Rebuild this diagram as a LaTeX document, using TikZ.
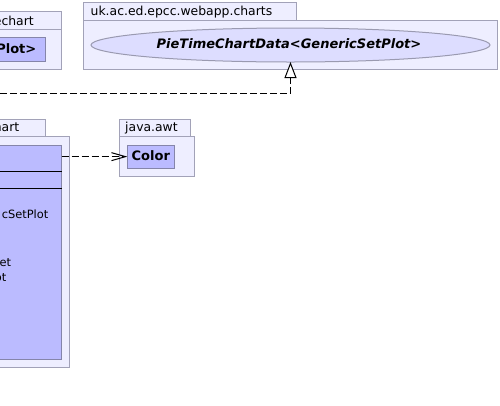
\documentclass[tikz,border=0pt]{standalone}
\usepackage{fontspec}
\setmainfont{DejaVu Sans}
\usetikzlibrary{arrows.meta,calc,shapes.geometric}
\definecolor{pkgfill}{HTML}{EEEEFF}
\definecolor{pkgline}{HTML}{A2A2B8}
\definecolor{clsfill}{HTML}{BBBBFF}
\definecolor{clsline}{HTML}{8585AA}
\definecolor{ellfill}{HTML}{DDDDFF}
\definecolor{ellline}{HTML}{9A9AB0}
\begin{document}
\begin{tikzpicture}[x=1pt,y=-1pt,
  pkgbox/.style={draw=pkgline,fill=pkgfill,line width=1pt,inner sep=0pt,outer sep=0pt,anchor=north west},
  clsbox/.style={draw=clsline,fill=clsfill,line width=1pt,inner sep=0pt,outer sep=0pt,anchor=north west},
  pkgname/.style={inner sep=0pt,font=\fontsize{12.4}{14}\selectfont},
  clsname/.style={inner sep=0pt,font=\fontsize{13}{15}\selectfont\bfseries},
  member/.style={inner sep=0pt,font=\fontsize{11.4}{14}\selectfont},
  dep/.style={draw=black,line width=1pt,dash pattern=on 7pt off 3pt}]
\useasboundingbox (0,0) rectangle (500,405);
\clip (0,0) rectangle (500,405);
% top right package
\node[pkgbox,minimum width=212.7pt,minimum height=17.3pt] (tabR) at (83.3,2.7) {};
\node[pkgbox,minimum width=413.7pt,minimum height=49pt] (bodyR) at (83.3,20) {};
\node[pkgname,anchor=base west] (nameR) at (90.5,15.3) {uk.ac.ed.epcc.webapp.charts};
\node[ellipse,draw=ellline,fill=ellfill,line width=1pt,inner sep=0pt,outer sep=0pt,minimum width=399pt,minimum height=34pt] (ell) at (290.5,45) {};
\node[clsname,anchor=base,font=\fontsize{13}{15}\selectfont\bfseries\itshape] (ellT) at (289,48.3) {PieTimeChartData<GenericSetPlot>};
% top left package
\node[pkgbox,minimum width=111.3pt,minimum height=17.6pt] (tabL) at (-50,11.7) {};
\node[pkgbox,minimum width=111.3pt,minimum height=39.7pt] (bodyL) at (-50,29.3) {};
\node[pkgname,anchor=base east] (nameL) at (34,25) {echart};
\node[clsbox,minimum width=125pt,minimum height=24pt] (plot) at (-80,37) {};
\node[clsname,anchor=base east] (plotT) at (36.5,53.3) {Plot>};
% java.awt package
\node[pkgbox,minimum width=70.7pt,minimum height=16.7pt] (tabA) at (119.3,119.3) {};
\node[pkgbox,minimum width=75pt,minimum height=40pt] (bodyA) at (119.3,136) {};
\node[pkgname,anchor=base west] (nameA) at (125,131) {java.awt};
\node[clsbox,minimum width=47pt,minimum height=23.3pt] (color) at (127.3,145) {};
\node[clsname,anchor=base] (colorT) at (150.8,160.7) {Color};
% bottom left package
\node[pkgbox,minimum width=105.3pt,minimum height=16.7pt] (tabB) at (-60,119.3) {};
\node[pkgbox,minimum width=129.3pt,minimum height=231pt] (bodyB) at (-60,136) {};
\node[pkgname,anchor=base east] (nameB) at (19.5,131.7) {hart};
\node[clsbox,minimum width=141.7pt,minimum height=214pt] (cls) at (-80,145) {};
\draw[line width=1pt] (cls.west |- 0,171.7) -- (cls.east |- 0,171.7);
\draw[line width=1pt] (cls.west |- 0,188.7) -- (cls.east |- 0,188.7);
\node[member,anchor=base east] (m1) at (48.5,218.3) {cSetPlot};
\node[member,anchor=base east] (m2) at (11.3,266) {et};
\node[member,anchor=base east] (m3) at (6.6,281.7) {ot};
% connectors
\coordinate (src) at (-20,93.3);
\draw[dep,-{Triangle[length=16pt,width=12pt,fill=white,line width=1pt]}] (src) -| (ell.south);
\draw[dep,-{Straight Barb[length=14pt,width=8pt,line width=1pt]}] (cls.north east |- color.west) -- (color.west);
\end{tikzpicture}
\end{document}
